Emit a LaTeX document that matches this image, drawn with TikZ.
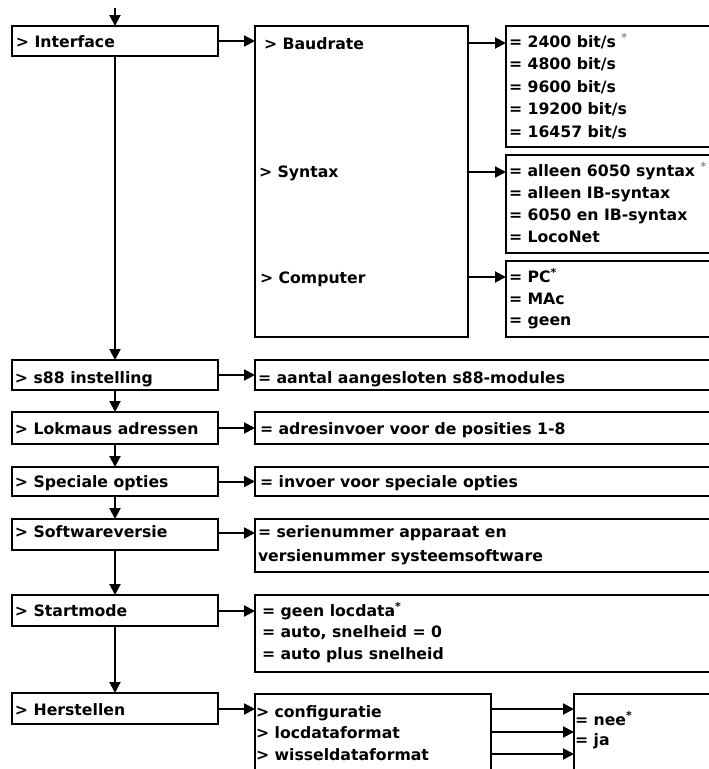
\documentclass[tikz,border=0pt]{standalone}
\usepackage{fontspec}
\setmainfont{DejaVu Sans}
\usetikzlibrary{arrows.meta}
\newcommand{\gstar}{\textsuperscript{\color{black!45}*}}
\begin{document}
\begin{tikzpicture}[x=1pt,y=-1pt,
  box/.style={draw, line width=2.3pt, anchor=north west, inner sep=0pt, outer sep=0pt},
  lbl/.style={anchor=base west, inner sep=0pt, outer sep=0pt, font=\fontsize{15.7}{18}\selectfont\bfseries},
  conn/.style={line width=2pt, -{Triangle[length=11pt,width=11pt]}}]
\clip (0,0) rectangle (709,769);
\fill[white] (0,0) rectangle (709,769);
% left column boxes
\node[box, minimum width=206pt, minimum height=30pt] (ifc)   at (12,26) {};
\node[box, minimum width=206pt, minimum height=30pt] (s88)   at (12,360) {};
\node[box, minimum width=206pt, minimum height=32pt] (lok)   at (12,412) {};
\node[box, minimum width=206pt, minimum height=29pt] (spec)  at (12,467) {};
\node[box, minimum width=206pt, minimum height=31pt] (soft)  at (12,519) {};
\node[box, minimum width=206pt, minimum height=31pt] (start) at (12,595) {};
\node[box, minimum width=206pt, minimum height=31pt] (herst) at (12,693) {};
% interface sub boxes
\node[box, minimum width=213pt, minimum height=311pt] (big) at (255,26) {};
\node[box, minimum width=214pt, minimum height=121pt] (bx1) at (506,26) {};
\node[box, minimum width=214pt, minimum height=98pt]  (bx2) at (506,155) {};
\node[box, minimum width=214pt, minimum height=76pt]  (bx3) at (506,261) {};
% right boxes
\node[box, minimum width=465pt, minimum height=30pt] (s88r)   at (255,360) {};
\node[box, minimum width=465pt, minimum height=32pt] (lokr)   at (255,412) {};
\node[box, minimum width=465pt, minimum height=29pt] (specr)  at (255,467) {};
\node[box, minimum width=465pt, minimum height=53pt] (softr)  at (255,519) {};
\node[box, minimum width=465pt, minimum height=77pt] (startr) at (255,595) {};
\node[box, minimum width=236pt, minimum height=90pt] (herstr) at (255,694) {};
\node[box, minimum width=146pt, minimum height=90pt] (fin)    at (574,694) {};
% labels left
\node[lbl] (tifc)   at (16,47)  {> Interface};
\node[lbl] (ts88)   at (15,383) {> s88 instelling};
\node[lbl] (tlok)   at (15,434) {> Lokmaus adressen};
\node[lbl] (tspec)  at (15,487) {> Speciale opties};
\node[lbl] (tsoft)  at (15,537) {> Softwareversie};
\node[lbl] (tstart) at (15,616) {> Startmode};
\node[lbl] (therst) at (15,715) {> Herstellen};
% big box labels
\node[lbl] (tbaud) at (264,49)  {> Baudrate};
\node[lbl] (tsyn)  at (259,177) {> Syntax};
\node[lbl] (tcomp) at (260,283) {> Computer};
% box 1
\node[lbl] (b1a) at (509,47)  {= 2400 bit/s \gstar};
\node[lbl] (b1b) at (509,69)  {= 4800 bit/s};
\node[lbl] (b1c) at (509,92)  {= 9600 bit/s};
\node[lbl] (b1d) at (509,114) {= 19200 bit/s};
\node[lbl] (b1e) at (509,137) {= 16457 bit/s};
% box 2
\node[lbl] (b2a) at (509,176) {= alleen 6050 syntax \gstar};
\node[lbl] (b2b) at (509,198) {= alleen IB-syntax};
\node[lbl] (b2c) at (509,220) {= 6050 en IB-syntax};
\node[lbl] (b2d) at (509,242) {= LocoNet};
% box 3
\node[lbl] (b3a) at (509,282) {= PC\textsuperscript{*}};
\node[lbl] (b3b) at (509,304) {= MAc};
\node[lbl] (b3c) at (509,325) {= geen};
% right labels
\node[lbl] (r1)  at (258,383) {= aantal aangesloten s88-modules};
\node[lbl] (r2)  at (260,434) {= adresinvoer voor de posities 1-8};
\node[lbl] (r3)  at (260,487) {= invoer voor speciale opties};
\node[lbl] (r4a) at (258,537) {= serienummer apparaat en};
\node[lbl] (r4b) at (258,561) {versienummer systeemsoftware};
\node[lbl] (r5a) at (262,616) {= geen locdata\textsuperscript{*}};
\node[lbl] (r5b) at (262,637) {= auto, snelheid = 0};
\node[lbl] (r5c) at (262,659) {= auto plus snelheid};
\node[lbl] (r6a) at (256,717) {> configuratie};
\node[lbl] (r6b) at (256,738) {> locdataformat};
\node[lbl] (r6c) at (256,760) {> wisseldataformat};
\node[lbl] (f1)  at (575,725) {= nee\textsuperscript{*}};
\node[lbl] (f2)  at (575,745) {= ja};
% coordinates for connector heights
\coordinate (top) at (115,8);
\coordinate (y1) at (0,43);
\coordinate (y2) at (0,172);
\coordinate (y3) at (0,277);
\coordinate (y4) at (0,533);
\coordinate (y5) at (0,611);
\coordinate (y6) at (0,709);
\coordinate (h1) at (0,709);
\coordinate (h2) at (0,732);
\coordinate (h3) at (0,754);
% connectors
\draw[conn] (top) -- (ifc.north);
\draw[conn] (ifc.east) -- (big.west |- ifc.east);
\draw[conn] (big.east |- y1) -- (bx1.west |- y1);
\draw[conn] (big.east |- y2) -- (bx2.west |- y2);
\draw[conn] (big.east |- y3) -- (bx3.west |- y3);
\draw[conn] (ifc.south) -- (s88.north);
\draw[conn] (s88.south) -- (lok.north);
\draw[conn] (lok.south) -- (spec.north);
\draw[conn] (spec.south) -- (soft.north);
\draw[conn] (soft.south) -- (start.north);
\draw[conn] (start.south) -- (herst.north);
\draw[conn] (s88.east) -- (s88r.west);
\draw[conn] (lok.east) -- (lokr.west);
\draw[conn] (spec.east) -- (specr.west);
\draw[conn] (soft.east |- y4) -- (softr.west |- y4);
\draw[conn] (start.east |- y5) -- (startr.west |- y5);
\draw[conn] (herst.east |- y6) -- (herstr.west |- y6);
\draw[conn] (herstr.east |- h1) -- (fin.west |- h1);
\draw[conn] (herstr.east |- h2) -- (fin.west |- h2);
\draw[conn] (herstr.east |- h3) -- (fin.west |- h3);
\end{tikzpicture}
\end{document}
